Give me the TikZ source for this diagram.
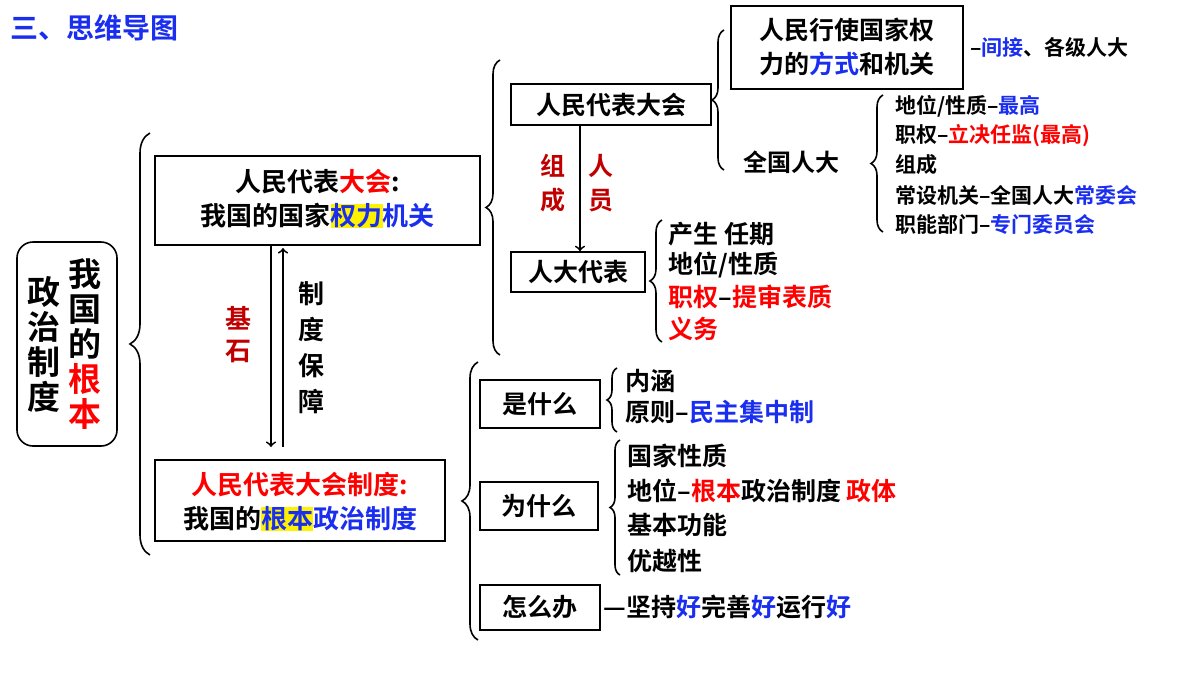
\documentclass[tikz,border=0pt]{standalone}
\usepackage{fontspec}
\setmainfont{Noto Sans CJK SC}[BoldFont=* Bold]
\usetikzlibrary{decorations.pathreplacing}
\definecolor{myred}{HTML}{FF0000}
\definecolor{myblue}{HTML}{1A2EF0}
\definecolor{dred}{HTML}{C00000}
\newcommand\hlt[1]{{\setlength\fboxsep{0pt}\colorbox{yellow}{#1}}}
\newcommand\R[1]{\textcolor{myred}{#1}}
\newcommand\B[1]{\textcolor{myblue}{#1}}
\tikzset{
  fz/.style={font=\bfseries\fontsize{#1}{#1}\selectfont},
  bx/.style={draw,line width=0.8pt,inner sep=0pt},
  br/.style={decorate,decoration={brace,amplitude=#1},line width=0.8pt},
  tx/.style={anchor=west,inner sep=0pt,fz=12.5},
  sm/.style={anchor=west,inner sep=0pt,fz=10.5},
}
\begin{document}
\begin{tikzpicture}[x=0.5pt,y=-0.5pt]
\useasboundingbox (0,0) rectangle (1200,675);
\node[anchor=west,inner sep=0pt,fz=14,text=myblue] (title) at (10,28) {三、思维导图};
% left rounded box
\node[draw,rounded corners=8pt,line width=0.8pt,minimum width=50pt,minimum height=102pt] (root) at (67,344) {};
\node[fz=16.5,align=center,inner sep=0pt,font=\bfseries\fontsize{16.5}{17.5}\selectfont] (c1) at (85,344) {我\\国\\的\\\R{根}\\\R{本}};
\node[align=center,inner sep=0pt,font=\bfseries\fontsize{16.5}{17.5}\selectfont] (c2) at (44,344) {政\\治\\制\\度};
\draw[br=10pt] (150,555) -- (150,133);
% box1
\node[bx,minimum width=162.5pt,minimum height=44.5pt] (b1) at (317.5,200.5) {};
\node[fz=13,align=center,inner sep=0pt,font=\bfseries\fontsize{13}{17}\selectfont] (b1t) at (317.5,199) {人民代表\R{大会}:\\我国的国家\hlt{\B{权力}}\B{机关}};
% box2
\node[bx,minimum width=145pt,minimum height=40.5pt] (b2) at (300,500.5) {};
\node[align=center,inner sep=0pt,font=\bfseries\fontsize{13}{17}\selectfont] (b2t) at (300,502) {\R{人民代表大会制度:}\\我国的\hlt{\B{根本}}\B{政治制度}};
% arrows between
\coordinate (a1) at (271,245); \coordinate (a2) at (271,447);
\coordinate (a3) at (283,447); \coordinate (a4) at (283,248);
\draw[->,line width=0.9pt] (a1) -- (a2);
\draw[->,line width=0.9pt] (a3) -- (a4);
\node[align=center,inner sep=0pt,text=dred,font=\bfseries\fontsize{13}{16}\selectfont] (jishi) at (238,335) {基\\石};
\node[align=center,inner sep=0pt,font=\bfseries\fontsize{13}{18}\selectfont] (zd) at (311,348) {制\\度\\保\\障};
% upper right brace
\draw[br=7pt] (500,355) -- (500,60);
\node[bx,minimum width=100pt,minimum height=20.5pt,fz=12.5] (rd) at (611,104.5) {人民代表大会};
\node[bx,minimum width=67pt,minimum height=20pt,fz=12.5] (rddb) at (578,272) {人大代表};
\draw[->,line width=0.9pt] (rd.south -| 580,0) -- (rddb.north -| 580,0);
\node[align=center,inner sep=0pt,text=dred,font=\bfseries\fontsize{12.5}{17}\selectfont] (zc) at (553,183) {组\\成};
\node[align=center,inner sep=0pt,text=dred,font=\bfseries\fontsize{12.5}{17}\selectfont] (ry) at (601,183) {人\\员};
% brace after renmin daibiao dahui
\draw[br=6pt] (724,170) -- (724,30);
\node[bx,minimum width=116pt,minimum height=41.5pt] (fs) at (847,47.5) {};
\node[align=left,inner sep=0pt,font=\bfseries\fontsize{12.5}{17}\selectfont] (fst) at (847,47) {人民行使国家权\\力的\B{方式}和机关};
\node[sm] (jj) at (970,47) {--\B{间接}、各级人大};
\node[tx,fz=12] (qg) at (743,162) {全国人大};
\draw[br=6pt] (883,232) -- (883,95);
\node[sm] (l1) at (895,106) {地位/性质--\B{最高}};
\node[sm] (l2) at (895,136) {职权--\R{立决任监(最高)}};
\node[sm] (l3) at (895,165) {组成};
\node[sm] (l4) at (895,195) {常设机关--全国人大\B{常委会}};
\node[sm] (l5) at (895,225) {职能部门--\B{专门委员会}};
% rendadaibiao brace
\draw[br=6pt] (662,342) -- (662,220);
\node[tx] (m1) at (668,234) {产生 任期};
\node[tx] (m2) at (668,265) {地位/性质};
\node[tx] (m3) at (668,297) {\R{职权}--\R{提审表质}};
\node[tx] (m4) at (668,329) {\R{义务}};
% lower brace
\draw[br=8pt] (478,640) -- (478,362);
\node[bx,minimum width=60pt,minimum height=24pt,fz=12.5] (sm1) at (540,404) {是什么};
\node[bx,minimum width=59pt,minimum height=24pt,fz=12.5] (ws) at (539,506) {为什么};
\node[bx,minimum width=60pt,minimum height=22.5pt,fz=12.5] (zm) at (540,607.5) {怎么办};
\draw[br=5pt] (617,432) -- (617,368);
\node[tx] (n1) at (625,381) {内涵};
\node[tx] (n2) at (625,412) {原则--\B{民主集中制}};
\draw[br=5pt] (620,575) -- (620,440);
\node[tx] (p1) at (627,456) {国家性质};
\node[tx] (p2) at (627,491) {地位--\R{根本}政治制度 \R{政体}};
\node[tx] (p3) at (627,525) {基本功能};
\node[tx] (p4) at (627,561) {优越性};
\node[tx] (q1) at (603,607) {---坚持\B{好}完善\B{好}运行\B{好}};
\end{tikzpicture}
\end{document}
